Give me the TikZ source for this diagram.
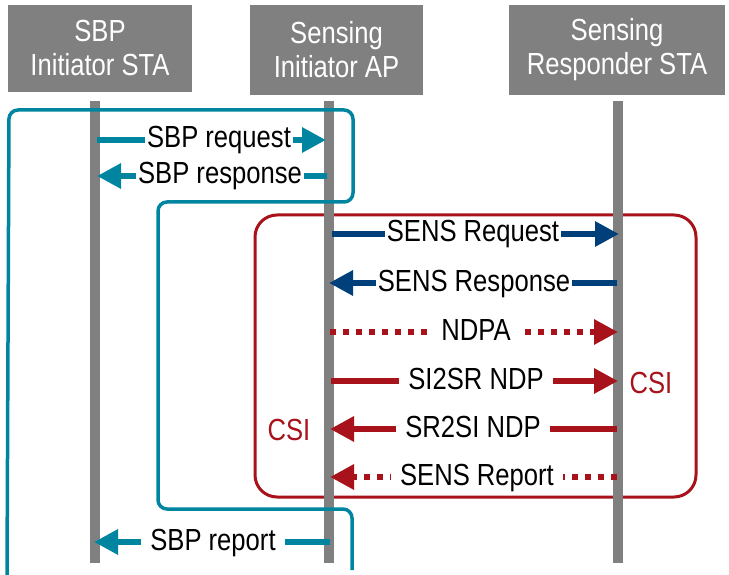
\documentclass[tikz,border=0pt]{standalone}
\usepackage{fontspec}
\setmainfont[FakeStretch=0.84]{Liberation Sans}
\usetikzlibrary{arrows.meta}
\definecolor{hdrgray}{RGB}{128,128,128}
\definecolor{sbpteal}{RGB}{0,133,160}
\definecolor{sensblue}{RGB}{0,64,122}
\definecolor{sensred}{RGB}{168,18,26}
\tikzset{
  hdr/.style={fill=hdrgray, text=white, align=center, inner sep=0pt, font=\fontsize{30.5}{34}\selectfont},
  life/.style={draw=hdrgray, line width=9.5pt},
  msg/.style={line width=6pt, -{Triangle[length=24pt,width=24pt]}},
  dotmsg/.style={msg, dash pattern=on 6pt off 7pt},
  lbl/.style={fill=white, inner ysep=1pt, inner xsep=2pt, text height=22pt, text depth=6pt, font=\fontsize{30.5}{34}\selectfont},
  wlbl/.style={lbl, inner xsep=9pt},
  csi/.style={text=sensred, font=\fontsize{30.5}{34}\selectfont, inner sep=0pt},
}
\begin{document}
\begin{tikzpicture}[x=1pt,y=-1pt]
\useasboundingbox (0,0) rectangle (729,575);
% header boxes
\node[hdr, minimum width=184pt, minimum height=87pt] (h1) at (100,48.5) {SBP\\Initiator STA};
\node[hdr, minimum width=173pt, minimum height=90pt] (h2) at (336.5,50) {Sensing\\Initiator AP};
\node[hdr, minimum width=216pt, minimum height=90pt] (h3) at (617,50) {Sensing\\Responder STA};
% red box
\draw[sensred, line width=3pt, rounded corners=22pt] (255,215) rectangle (696,497);
% lifelines
\coordinate (l1t) at (95,101); \coordinate (l1b) at (95,563);
\coordinate (l2t) at (329,101); \coordinate (l2b) at (329,563);
\coordinate (l3t) at (618,101); \coordinate (l3b) at (618,563);
\draw[life] (l1t) -- (l1b);
\draw[life] (l2t) -- (l2b);
\draw[life] (l3t) -- (l3b);
% teal loop
\draw[sbpteal, line width=3.5pt, rounded corners=9pt]
  (7,575) -- (9,110) -- (353,110) -- (353,202) -- (158,202) -- (158,509) -- (352,509) -- (352,570);
% SBP request / response
\coordinate (a1s) at (97,140); \coordinate (a1e) at (326,140);
\draw[msg, sbpteal] (a1s) -- (a1e);
\node[lbl] (t1) at (219,140) {SBP request};
\coordinate (a2s) at (327,176); \coordinate (a2e) at (97,176);
\draw[msg, sbpteal] (a2s) -- (a2e);
\node[lbl] (t2) at (220,176) {SBP response};
% SENS request / response
\coordinate (a3s) at (332,234); \coordinate (a3e) at (619,234);
\draw[msg, sensblue] (a3s) -- (a3e);
\node[lbl] (t3) at (473,234) {SENS Request};
\coordinate (a4s) at (617,283); \coordinate (a4e) at (329,283);
\draw[msg, sensblue] (a4s) -- (a4e);
\node[lbl] (t4) at (474,283) {SENS Response};
% NDPA
\coordinate (a5s) at (330,332); \coordinate (a5e) at (618,332);
\draw[dotmsg, sensred] (a5s) -- (a5e);
\node[wlbl] (t5) at (476,332) {NDPA};
% SI2SR
\coordinate (a6s) at (331,381); \coordinate (a6e) at (618,381);
\draw[msg, sensred] (a6s) -- (a6e);
\node[wlbl] (t6) at (476,381) {SI2SR NDP};
% SR2SI
\coordinate (a7s) at (617,429); \coordinate (a7e) at (330,429);
\draw[msg, sensred] (a7s) -- (a7e);
\node[wlbl] (t7) at (473,429) {SR2SI NDP};
% SENS Report
\coordinate (a8s) at (617,477); \coordinate (a8e) at (330,477);
\draw[dotmsg, sensred] (a8s) -- (a8e);
\node[wlbl] (t8) at (477,477) {SENS Report};
% SBP report
\coordinate (a9s) at (330,542); \coordinate (a9e) at (94,542);
\draw[msg, sbpteal] (a9s) -- (a9e);
\node[wlbl] (t9) at (213,542) {SBP report};
% CSI labels
\node[csi] (c1) at (651,383) {CSI};
\node[csi] (c2) at (289,430) {CSI};
\end{tikzpicture}
\end{document}
